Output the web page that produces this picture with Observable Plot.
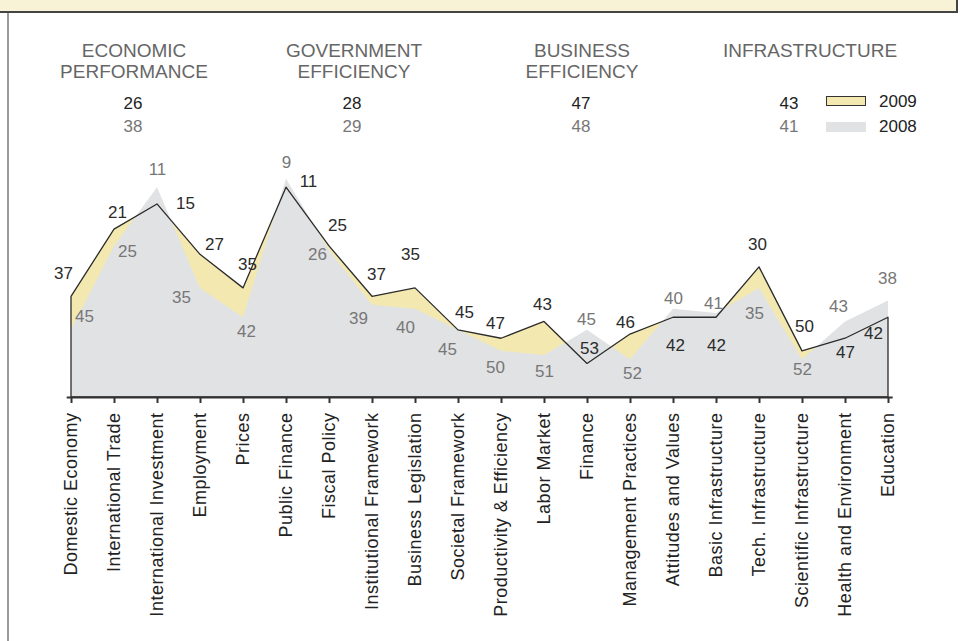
<!DOCTYPE html>
<html><head><meta charset="utf-8">
<script src="https://cdn.jsdelivr.net/npm/d3@7"></script>
<script src="https://cdn.jsdelivr.net/npm/@observablehq/plot@0.6"></script>
<style>
body{margin:0;background:#fff;font-family:"Liberation Sans",Arial,Helvetica,sans-serif;}
#wrap{position:relative;width:966px;height:641px;overflow:hidden;background:#fff;}
#wrap svg{position:absolute;left:0;top:0;}
.band{position:absolute;left:0;top:0;width:956px;height:11px;background:#f8f2d6;border-bottom:2px solid #444;border-right:2px solid #444;}
.vline{position:absolute;left:7px;top:13px;width:2px;height:628px;background:#9a9a9a;}
.hdr{position:absolute;width:240px;margin-left:-120px;text-align:center;color:#666;font-size:19px;line-height:21px;}
.num{position:absolute;width:60px;margin-left:-30px;text-align:center;font-size:17px;line-height:20px;}
.n09{color:#222;} .n08{color:#777;}
.sw{position:absolute;width:40px;height:10px;}
.lg{position:absolute;font-size:17px;line-height:20px;color:#222;}
</style></head><body><div id="wrap"></div>
<script>
// ---- data ----
const factors = ["Domestic Economy","International Trade","International Investment","Employment","Prices",
  "Public Finance","Fiscal Policy","Institutional Framework","Business Legislation","Societal Framework",
  "Productivity & Efficiency","Labor Market","Finance","Management Practices","Attitudes and Values",
  "Basic Infrastructure","Tech. Infrastructure","Scientific Infrastructure","Health and Environment","Education"];
const rank2009 = [37,21,15,27,35,11,25,37,35,45,47,43,53,46,42,42,30,50,47,42];
const rank2008 = [45,25,11,35,42,9,26,39,40,45,50,51,45,52,40,41,35,52,43,38];
const groupNames = [["ECONOMIC","PERFORMANCE"],["GOVERNMENT","EFFICIENCY"],["BUSINESS","EFFICIENCY"],["INFRASTRUCTURE"]];
const groupRank2009 = [26,28,47,43];
const groupRank2008 = [38,29,48,41];
const years = ["2009","2008"];

// ---- layout (label nudges relative to each point, in px) ----
const nudge09 = [[-8,-23],[3,-17],[28,-1],[14,-10],[4,-24],[22,-6],[8,-21],[4,-22],[-5,-34],[6,-18],
  [-6,-15],[-2,-17],[2,-15],[-5,-12],[2,28],[0,28],[-2,-23],[2,-25],[0,14],[-15,16]];
const nudge08 = [[13,-14],[13,5],[0,-18],[-19,9],[3,14],[0,-17],[-12,4],[-14,13],[-10,18],[-11,19],
  [-6,16],[0,16],[-1,-11],[2,14],[0,-11],[-3,-10],[-5,25],[0,10],[-7,-15],[-1,-22]];

// ---- build ----
const data = factors.map((f,i)=>({factor:f, r09:rank2009[i], r08:rank2008[i], i}));
const YEL = "#f3e9b0", GRY = "#e1e2e4", INK = "#2b2b2b", GLAB = "#777";
const FONT = "'Liberation Sans', Arial, Helvetica, sans-serif";
const lab = {fontSize:17, fontFamily:FONT};

const labels = data.flatMap(d=>[
  Plot.text([d],{x:"factor", y:"r09", text:"r09", dx:nudge09[d.i][0], dy:nudge09[d.i][1], fill:INK, ...lab}),
  Plot.text([d],{x:"factor", y:"r08", text:"r08", dx:nudge08[d.i][0], dy:nudge08[d.i][1], fill:GLAB, ...lab})
]);

const chart = Plot.plot({
  width:966, height:641,
  marginLeft:66.7, marginRight:73.3, marginTop:141, marginBottom:244,
  style:{fontFamily:FONT, background:"transparent"},
  x:{type:"point", domain:factors, padding:0},
  y:{domain:[61,0], axis:null},
  marks:[
    Plot.areaY(data,{x:"factor", y1:61, y2:"r09", fill:YEL, curve:"linear"}),
    Plot.areaY(data,{x:"factor", y1:61, y2:"r08", fill:GRY, curve:"linear"}),
    Plot.areaY(data,{x:"factor", y1:61, y2:"r09", fill:"none", stroke:INK, strokeWidth:1.3, curve:"linear"}),
    Plot.ruleY([61],{stroke:"#333", strokeWidth:2.2}),
    Plot.axisX({tickRotate:-90, tickSize:6, tickPadding:9, fontSize:18, stroke:"#333", strokeWidth:2, fill:"#222", label:null}),
    ...labels
  ]
});
chart.querySelectorAll("g[aria-label='x-axis tick label'] text").forEach(t=>t.setAttribute("letter-spacing","0.5"));

const wrap = document.getElementById("wrap");
wrap.appendChild(chart);
const add = (cls, css, html)=>{const d=document.createElement("div"); d.className=cls; Object.assign(d.style,css); if(html!=null) d.innerHTML=html; wrap.appendChild(d); return d;};
add("band",{}); add("vline",{});
const hx = [134, 354, 582, 810];
groupNames.forEach((g,i)=>add("hdr",{left:hx[i]+"px", top:"40px"}, g.join("<br>")));
const nx = [133, 352, 581, 789];
groupRank2009.forEach((v,i)=>add("num n09",{left:nx[i]+"px", top:"94px"}, v));
groupRank2008.forEach((v,i)=>add("num n08",{left:nx[i]+"px", top:"117px"}, v));
add("sw",{left:"826px", top:"96px", background:YEL, border:"1.5px solid #333", boxSizing:"border-box"});
add("sw",{left:"826px", top:"122px", background:GRY});
add("lg",{left:"879px", top:"92px"}, years[0]);
add("lg",{left:"879px", top:"117px"}, years[1]);
</script></body></html>
